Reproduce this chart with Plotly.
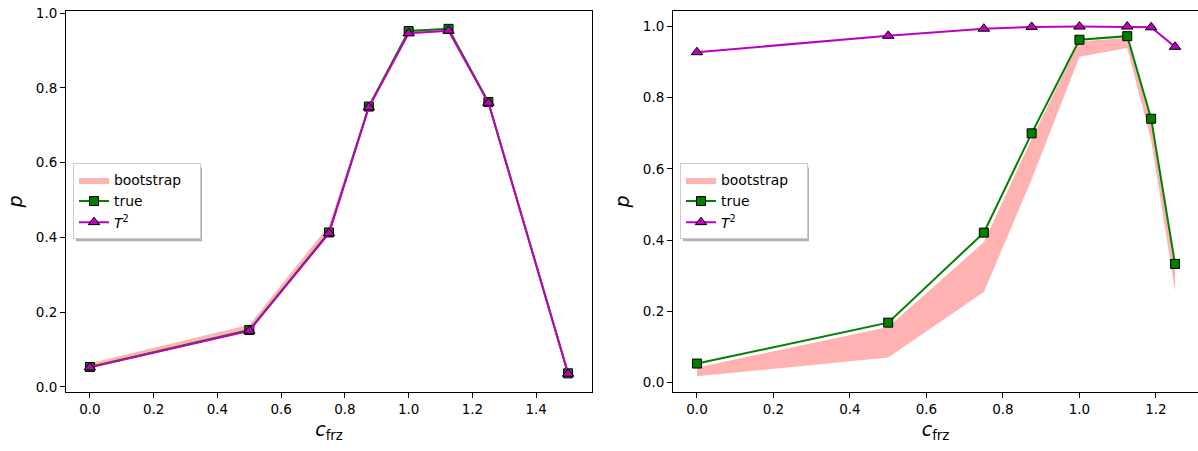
import plotly.graph_objects as go

# ---- data: left panel ----
x_left = [0.0, 0.5, 0.75, 0.875, 1.0, 1.125, 1.25, 1.5]
true_left = [0.053, 0.152, 0.413, 0.750, 0.952, 0.958, 0.762, 0.036]
t2_left = [0.052, 0.150, 0.411, 0.748, 0.946, 0.953, 0.760, 0.035]
boot_lo_left = [0.050, 0.148, 0.408, 0.745, 0.944, 0.950, 0.755, 0.033]
boot_hi_left = [0.063, 0.166, 0.432, 0.758, 0.955, 0.960, 0.766, 0.040]

# ---- data: right panel ----
x_right = [0.0, 0.5, 0.75, 0.875, 1.0, 1.125, 1.1875, 1.25]
true_right = [0.053, 0.168, 0.421, 0.700, 0.963, 0.973, 0.741, 0.333]
t2_right = [0.928, 0.974, 0.994, 0.999, 1.000, 1.000, 0.998, 0.943]
boot_lo_right = [0.017, 0.070, 0.254, 0.570, 0.915, 0.940, 0.680, 0.257]
boot_hi_right = [0.042, 0.156, 0.394, 0.685, 0.958, 0.968, 0.730, 0.335]

y_ticks = [0.0, 0.2, 0.4, 0.6, 0.8, 1.0]
x_ticks_left = [0.0, 0.2, 0.4, 0.6, 0.8, 1.0, 1.2, 1.4]
x_ticks_right = [0.0, 0.2, 0.4, 0.6, 0.8, 1.0, 1.2]

GREEN = "#008000"
MAGENTA = "#bf00bf"
FILL = "rgba(255,0,0,0.3)"
FONT = "DejaVu Sans"

W, H = 1198, 451

fig = go.Figure()


def add_panel(xs, lo, hi, tr, t2, xa, ya, legend):
    fig.add_trace(go.Scatter(
        x=list(xs) + list(xs)[::-1], y=list(hi) + list(lo)[::-1],
        fill="toself", fillcolor=FILL, line=dict(width=0, color=FILL),
        mode="lines", name="bootstrap\u2003", xaxis=xa, yaxis=ya, legend=legend,
        hoverinfo="skip"))
    fig.add_trace(go.Scatter(
        x=xs, y=tr, mode="lines+markers", name="true",
        line=dict(color=GREEN, width=2),
        marker=dict(symbol="square", size=9, color=GREEN,
                    line=dict(color="black", width=1)),
        xaxis=xa, yaxis=ya, legend=legend))
    fig.add_trace(go.Scatter(
        x=xs, y=t2, mode="lines+markers", name="<i>T</i><sup>2</sup>",
        line=dict(color=MAGENTA, width=2),
        marker=dict(symbol="triangle-up", size=10, color=MAGENTA,
                    line=dict(color="black", width=1)),
        xaxis=xa, yaxis=ya, legend=legend))


add_panel(x_left, boot_lo_left, boot_hi_left, true_left, t2_left, "x", "y", "legend")
add_panel(x_right, boot_lo_right, boot_hi_right, true_right, t2_right, "x2", "y2", "legend2")

# pixel geometry
L1, R1 = 66, 592
L2, R2 = 673, 1198
TOP, BOT = 5, 393
ydom = [(H - BOT) / H, (H - TOP) / H]

tickfont = dict(family=FONT, size=13.5, color="black")
titlefont = dict(family=FONT, size=19, color="black")

common_axis = dict(showline=True, linecolor="black", linewidth=1,
                   ticks="outside", ticklen=5, tickwidth=1, tickcolor="black",
                   showgrid=False, zeroline=False, tickfont=tickfont,
                   ticklabeloverflow="allow")

legend_common = dict(xanchor="left", yanchor="middle",
                     bgcolor="white", bordercolor="#cccccc", borderwidth=1,
                     font=dict(family=FONT, size=13.9, color="black"),
                     tracegroupgap=0, itemwidth=30)

fig.update_layout(
    width=W, height=H,
    margin=dict(l=0, r=0, t=0, b=0),
    paper_bgcolor="white", plot_bgcolor="white",
    showlegend=True,
    xaxis=dict(domain=[L1 / W, R1 / W], anchor="y", range=[-0.075, 1.575],
               tickvals=x_ticks_left, ticktext=[f"{v:.1f}" for v in x_ticks_left],
               mirror=True,
               title=dict(text="<i>c</i><sub>frz</sub>", font=titlefont, standoff=6),
               **common_axis),
    yaxis=dict(domain=ydom, anchor="x", range=[-0.014, 1.006],
               tickvals=y_ticks, ticktext=[f"{v:.1f}" for v in y_ticks],
               mirror=True,
               title=dict(text="<i>p</i>", font=titlefont, standoff=8),
               **common_axis),
    xaxis2=dict(domain=[L2 / W, R2 / W], anchor="y2", range=[-0.0627, 1.31],
                tickvals=x_ticks_right, ticktext=[f"{v:.1f}" for v in x_ticks_right],
                mirror=True,
                title=dict(text="<i>c</i><sub>frz</sub>", font=titlefont, standoff=6),
                **common_axis),
    yaxis2=dict(domain=ydom, anchor="x2", range=[-0.027, 1.044],
                tickvals=y_ticks, ticktext=[f"{v:.1f}" for v in y_ticks],
                mirror=False,
                title=dict(text="<i>p</i>", font=titlefont, standoff=8),
                **common_axis),
    legend=dict(x=(L1 + 7) / W, y=(H - 199) / H, **legend_common),
    legend2=dict(x=(L2 + 7) / W, y=(H - 199) / H, **legend_common),
)

# legend shadows (drawn under the legend boxes)
LEG_W, LEG_H = 126, 75
for lx in (L1 + 7, L2 + 7):
    x0 = lx + 3
    y0 = 199 - LEG_H / 2 + 3
    fig.add_shape(type="rect", xref="paper", yref="paper",
                  x0=x0 / W, x1=(x0 + LEG_W) / W,
                  y0=(H - y0 - LEG_H) / H, y1=(H - y0) / H,
                  fillcolor="#b0b0b0", line=dict(width=0), layer="above")

fig.write_html(
    "out.html",
    config={"displayModeBar": False},
    post_script="document.body.style.margin='0';document.body.style.padding='0';",
)
